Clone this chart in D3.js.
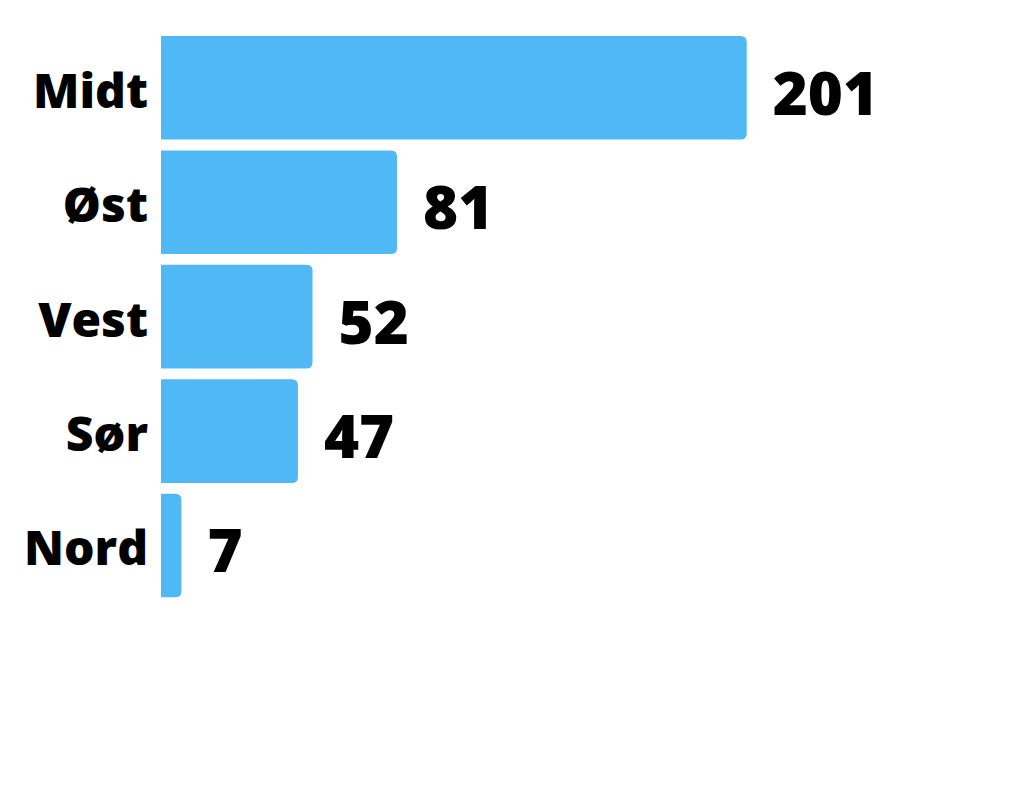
<!DOCTYPE html>
<html>
<head>
<meta charset="utf-8">
<script src="https://cdn.jsdelivr.net/npm/d3@7"></script>
<style>
  html, body { margin: 0; padding: 0; background: #ffffff; }
  svg { display: block; }
  text { font-family: "Open Sans", "DejaVu Sans", sans-serif; font-weight: 800; fill: #000; }
</style>
</head>
<body>
<svg id="chart" width="1024" height="800"></svg>
<script>
const categories = ["Midt", "Øst", "Vest", "Sør", "Nord"];
const values = [201, 81, 52, 47, 7];

const svg = d3.select("#chart");
const x = d3.scaleLinear().domain([0, 201]).range([161, 746.7]);
const y = d3.scaleBand().domain(categories).range([36, 597.3]).paddingInner(0.0946).paddingOuter(0);
const r = 6;
const color = "#4fb8f5";

const data = categories.map((c, i) => ({ c, v: values[i] }));

function barPath(d) {
  const x0 = x(0), x1 = x(d.v), y0 = y(d.c), h = y.bandwidth();
  const rr = Math.min(r, (x1 - x0) / 2);
  return `M${x0},${y0}H${x1 - rr}Q${x1},${y0} ${x1},${y0 + rr}V${y0 + h - rr}Q${x1},${y0 + h} ${x1 - rr},${y0 + h}H${x0}Z`;
}

svg.append("g").selectAll("path").data(data).join("path")
  .attr("d", barPath)
  .attr("fill", color);

// category axis labels
const axis = d3.axisLeft(y).tickSize(0).tickPadding(0);
const ag = svg.append("g").attr("transform", `translate(148,0)`).call(axis);
ag.select(".domain").remove();
ag.selectAll("text")
  .attr("font-size", 48)
  .attr("dy", null)
  .attr("y", 20)
  .style("font-family", '"Open Sans", sans-serif')
  .style("font-weight", 800)
  .attr("fill", "#000");

// value labels
svg.append("g").selectAll("text").data(data).join("text")
  .attr("x", d => x(d.v) + 26)
  .attr("y", d => y(d.c) + y.bandwidth() / 2 + 27)
  .attr("font-size", 60)
  .text(d => d.v);
</script>
</body>
</html>
